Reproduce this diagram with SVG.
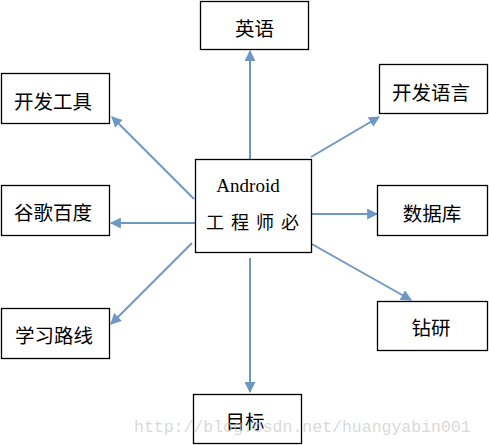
<svg xmlns="http://www.w3.org/2000/svg" width="489" height="445" viewBox="0 0 489 445">
<style>
.box{fill:#fff;stroke:#000;stroke-width:1.3}
.lbl{font-family:"Noto Sans CJK SC","Noto Sans",sans-serif;font-size:19.5px;fill:#000;text-anchor:middle;dominant-baseline:central}
.con{stroke:#6e98c4;stroke-width:2;fill:none;marker-end:url(#ah)}
.wm{font-family:"Liberation Mono",monospace;font-size:16.5px;fill:#c8c8c8;fill-opacity:0.7}
</style>
<defs>
<marker id="ah" viewBox="0 0 10 10" refX="9" refY="5" markerWidth="5.5" markerHeight="5.5" orient="auto" markerUnits="strokeWidth">
<path d="M0,0 L10,5 L0,10 z" fill="#6e98c4"/>
</marker>
</defs>
<rect width="489" height="445" fill="#fff"/>
<g id="connectors">
<line class="con" x1="250" y1="159" x2="250" y2="51"/>
<line class="con" x1="250" y1="258" x2="250" y2="392"/>
<line class="con" x1="195" y1="223" x2="111" y2="223"/>
<line class="con" x1="194" y1="199" x2="112" y2="117"/>
<line class="con" x1="192" y1="243" x2="111" y2="324"/>
<line class="con" x1="311" y1="157" x2="379" y2="117"/>
<line class="con" x1="312" y1="214" x2="377" y2="214"/>
<line class="con" x1="310" y1="243" x2="411" y2="300"/>
</g>
<g id="center">
<rect class="box" x="195.5" y="159.5" width="116" height="93"/>
<text x="248" y="192" font-family="Liberation Serif,serif" font-size="19" text-anchor="middle">Android</text>
<text x="256" y="229" class="lbl" style="dominant-baseline:auto;font-size:18px" letter-spacing="7">工程师必</text>
</g>
<g id="yingyu">
<rect class="box" x="200.5" y="1.5" width="108" height="48"/>
<text class="lbl" x="254.5" y="27">英语</text>
</g>
<g id="kaifagongju">
<rect class="box" x="1.5" y="73.5" width="108" height="50"/>
<text class="lbl" x="53" y="100">开发工具</text>
</g>
<g id="kaifayuyan">
<rect class="box" x="379.5" y="64.5" width="108" height="49"/>
<text class="lbl" x="431" y="91">开发语言</text>
</g>
<g id="gugebaidu">
<rect class="box" x="1.5" y="185.5" width="108" height="50"/>
<text class="lbl" x="53" y="211">谷歌百度</text>
</g>
<g id="shujuku">
<rect class="box" x="377.5" y="185.5" width="110" height="50"/>
<text class="lbl" x="432" y="212">数据库</text>
</g>
<g id="xuexiluxian">
<rect class="box" x="1.5" y="308.5" width="108" height="50"/>
<text class="lbl" x="54" y="334">学习路线</text>
</g>
<g id="zuanyan">
<rect class="box" x="377.5" y="301.5" width="110" height="49"/>
<text class="lbl" x="431" y="326">钻研</text>
</g>
<g id="mubiao">
<rect class="box" x="193.5" y="394.5" width="108" height="49"/>
<text class="lbl" x="245" y="420">目标</text>
</g>
<text class="wm" x="134" y="432">http://blog.csdn.net/huangyabin001</text>
</svg>
